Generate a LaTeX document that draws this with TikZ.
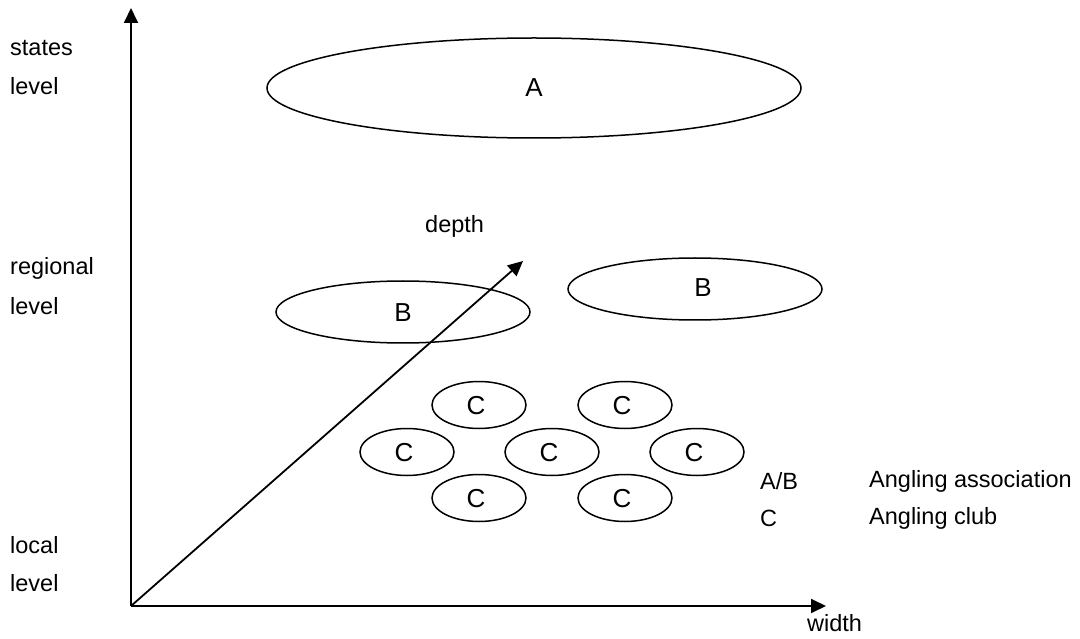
\documentclass[tikz,border=0pt]{standalone}
\usepackage{fontspec}
\setmainfont{Liberation Sans}
\usetikzlibrary{arrows.meta}
\begin{document}
\begin{tikzpicture}[x=1pt,y=-1pt,
  lab/.style={font=\fontsize{23.5}{28}\selectfont, inner sep=0pt, anchor=west},
  big/.style={font=\fontsize{26}{30}\selectfont, inner sep=0pt},
  axis/.style={line width=1.8pt, -{Triangle[length=15pt,width=14pt]}},
  ring/.style={line width=1.5pt}]
\useasboundingbox (0,0) rectangle (1080,639);
% axes
\coordinate (O) at (131,606);
\coordinate (Ytop) at (131,8);
\coordinate (Xend) at (826,606);
\coordinate (Dend) at (523,261);
\draw[axis] (O) -- (Ytop);
\draw[axis] (O) -- (Xend);
\draw[axis] (O) -- (Dend);
% ellipses
\draw[ring] (534,88) ellipse [x radius=267, y radius=50];
\node[big] (A) at (534,88) {A};
\draw[ring] (403,312) ellipse [x radius=127, y radius=31];
\node[big] (B1) at (403,313) {B};
\draw[ring] (695,289) ellipse [x radius=127, y radius=31];
\node[big] (B2) at (703,288) {B};
% clubs
\foreach \n/\x/\y in {c1/479/405, c2/625/405, c3/407/452, c4/552/452, c5/697/452, c6/479/498, c7/625/498}{
  \draw[ring] (\x,\y) ellipse [x radius=47, y radius=23.5];
  \node[big] (\n) at (\x-3,\y+1) {C};
}
% labels
\node[lab] (s1) at (10,48) {states};
\node[lab] (s2) at (10,86) {level};
\node[lab] (r1) at (10,268) {regional};
\node[lab] (r2) at (10,306) {level};
\node[lab] (l1) at (10,545) {local};
\node[lab] (l2) at (10,583) {level};
\node[lab] (depth) at (425,226) {depth};
\node[lab] (width) at (807,623) {width};
\node[lab] (k1) at (760,481) {A/B};
\node[lab] (k2) at (869,481) {Angling association};
\node[lab] (k3) at (760,518) {C};
\node[lab] (k4) at (869,518) {Angling club};
\end{tikzpicture}
\end{document}
